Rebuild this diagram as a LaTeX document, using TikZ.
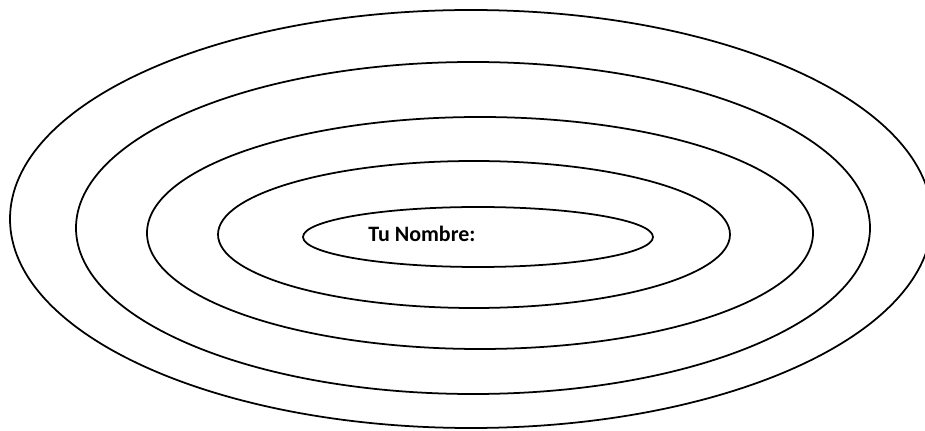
\documentclass[tikz,border=0pt]{standalone}
\usepackage{fontspec}
\setmainfont{Carlito}
\usetikzlibrary{shapes.geometric}
\tikzset{
    ring/.style={draw, ellipse, line width=1pt, inner sep=0pt},
    namelabel/.style={font=\fontsize{12.5}{15}\selectfont\bfseries, inner sep=0pt}
}

\begin{document}
\begin{tikzpicture}
    \useasboundingbox (0,0) rectangle (18.5,8.6);
    \node[ring, minimum width=18.44cm, minimum height=8.36cm] (ring1) at (9.42,4.22) {};
    \node[ring, minimum width=15.88cm, minimum height=6.64cm] (ring2) at (9.46,4.04) {};
    \node[ring, minimum width=13.32cm, minimum height=4.64cm] (ring3) at (9.60,3.94) {};
    \node[ring, minimum width=10.24cm, minimum height=2.94cm] (ring4) at (9.48,3.91) {};
    \node[ring, minimum width=7.00cm, minimum height=1.20cm] (ring5) at (9.56,3.86) {};
    \node[namelabel, anchor=base west] (name) at (7.36,3.76) {Tu Nombre:};
\end{tikzpicture}
\end{document}
